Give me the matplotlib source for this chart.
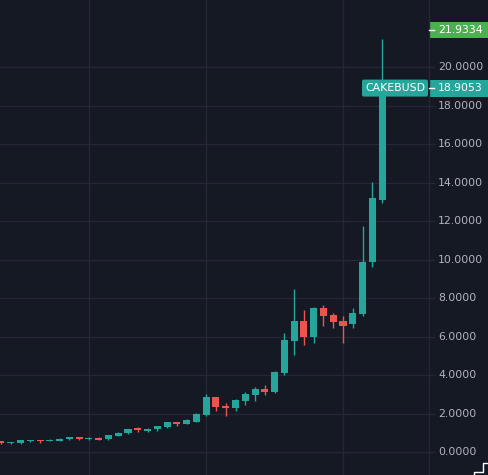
import matplotlib
matplotlib.use("Agg")
import matplotlib.pyplot as plt
from matplotlib.patches import FancyBboxPatch, Rectangle
from matplotlib.lines import Line2D

# weekly CAKEBUSD candles
opens = [0.57, 0.45, 0.46, 0.58, 0.61, 0.57, 0.60, 0.66, 0.78, 0.68,
         0.73, 0.66, 0.86, 0.97, 1.23, 1.09, 1.19, 1.28, 1.56, 1.47,
         1.57, 1.92, 2.84, 2.38, 2.30, 2.65, 2.96, 3.27, 3.13, 4.12,
         5.78, 6.82, 5.99, 7.50, 7.12, 6.80, 6.63, 7.17, 9.85, 13.09]
highs = [0.60, 0.53, 0.63, 0.64, 0.63, 0.68, 0.72, 0.80, 0.80, 0.76,
         0.78, 0.90, 1.03, 1.22, 1.31, 1.23, 1.38, 1.58, 1.58, 1.70,
         2.05, 3.01, 2.86, 2.53, 2.75, 3.10, 3.40, 3.48, 4.20, 6.20,
         8.47, 7.38, 7.52, 7.65, 7.20, 7.07, 7.46, 11.74, 14.04, 21.45]
lows = [0.42, 0.42, 0.44, 0.52, 0.48, 0.55, 0.57, 0.64, 0.62, 0.62,
        0.62, 0.64, 0.82, 0.93, 1.05, 1.04, 1.12, 1.26, 1.35, 1.44,
        1.55, 1.88, 2.15, 1.87, 2.15, 2.44, 2.67, 2.96, 3.05, 4.00,
        5.04, 5.56, 5.68, 6.56, 6.46, 5.68, 6.46, 7.06, 9.63, 12.95]
closes = [0.45, 0.52, 0.62, 0.61, 0.56, 0.62, 0.68, 0.78, 0.68, 0.72,
          0.64, 0.88, 0.98, 1.20, 1.16, 1.21, 1.33, 1.56, 1.45, 1.65,
          1.97, 2.84, 2.35, 2.30, 2.70, 3.01, 3.27, 3.10, 4.16, 5.82,
          6.82, 5.96, 7.50, 7.08, 6.77, 6.56, 7.24, 9.89, 13.18, 18.9053]
month_lines = [9, 21, 35]
y_ticks = [0, 2, 4, 6, 8, 10, 12, 14, 16, 18, 20]
symbol = "CAKEBUSD"
last_price = 18.9053
high_price = 21.9334

BG = "#151924"
GRID = "#252834"
UP = "#26a69a"
DOWN = "#ef5350"
TXT = "#b2b5be"
FS = 7.8

W, H = 488, 475
fig = plt.figure(figsize=(W / 100, H / 100), dpi=100, facecolor=BG)
ax = fig.add_axes([0, 0, 429 / W, 1])
ax.set_facecolor(BG)

body_w = 0.72
for i, (o, h, l, c) in enumerate(zip(opens, highs, lows, closes)):
    col = UP if c >= o else DOWN
    ax.vlines(i, l, h, color=col, linewidth=1.0, zorder=3)
    ax.add_patch(Rectangle((i - body_w / 2, min(o, c)), body_w, max(abs(c - o), 0.05),
                           facecolor=col, edgecolor="none", zorder=4))

ax.set_xlim(-0.1, 43.8)
ax.set_ylim(-1.19, 23.48)
for y in y_ticks:
    ax.axhline(y, color=GRID, linewidth=1.0, zorder=1)
for x in month_lines:
    ax.axvline(x, color=GRID, linewidth=1.0, zorder=1)
ax.set_xticks([])
ax.set_yticks([])
for s in ax.spines.values():
    s.set_visible(False)

# right price scale
def fy(v):
    y0, y1 = ax.get_ylim()
    return (v - y0) / (y1 - y0)

fig.add_artist(Line2D([429 / W, 429 / W], [0, 1], color=GRID, linewidth=1.0))
for y in y_ticks:
    fig.add_artist(Line2D([429 / W, 434 / W], [fy(y), fy(y)], color=GRID, linewidth=1.0))
    fig.text(438 / W, fy(y), f"{y:.4f}", color=TXT, fontsize=FS, va="center", ha="left")

# high label
yh = fy(high_price)
fig.add_artist(Rectangle((429 / W, yh - 8 / H), 59 / W, 16 / H, transform=fig.transFigure,
                         facecolor="#4caf50", edgecolor="none"))
fig.add_artist(Line2D([429 / W, 434 / W], [yh, yh], color="white", linewidth=1.0))
fig.text(438 / W, yh, f"{high_price:.4f}", color="white", fontsize=FS, va="center", ha="left")

# last price label + symbol tag
yl = fy(last_price)
fig.add_artist(Rectangle((429 / W, yl - 8.5 / H), 59 / W, 17 / H, transform=fig.transFigure,
                         facecolor=UP, edgecolor="none"))
fig.add_artist(Line2D([429 / W, 434 / W], [yl, yl], color="white", linewidth=1.0))
fig.text(438 / W, yl, f"{last_price:.4f}", color="white", fontsize=FS, va="center", ha="left")
fig.add_artist(FancyBboxPatch((362 / W, yl - 8.5 / H), 66 / W, 17 / H, transform=fig.transFigure,
                              boxstyle="round,pad=0,rounding_size=0.004",
                              facecolor=UP, edgecolor="none"))
fig.text(395 / W, yl, symbol, color="white", fontsize=FS, va="center", ha="center")

# corner glyph
fig.add_artist(Line2D([474 / W, 474 / W, 483 / W, 483 / W, 488 / W],
                      [0, 3 / H, 3 / H, 12 / H, 12 / H], color="white", linewidth=1.0))

fig.savefig("out.png", dpi=100, facecolor=BG)
